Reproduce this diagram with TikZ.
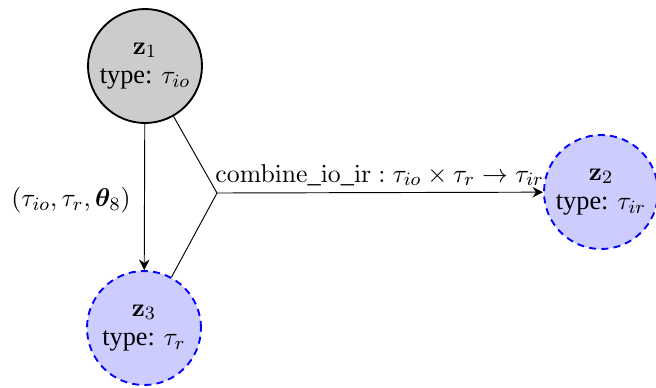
\documentclass[tikz,border=0pt]{standalone}
\usepackage[no-math]{fontspec}
\setmainfont{Liberation Serif}
\usepackage{amsmath,bm}
\usetikzlibrary{arrows.meta}
\begin{document}
\begin{tikzpicture}[x=0.4255pt,y=-0.4255pt,
  var/.style={circle,minimum size=48.5pt,inner sep=0pt,align=center,font=\fontsize{11.2}{12.6}\selectfont},
  observed/.style={var,draw=black,thick,fill=black!20},
  latent/.style={var,draw=blue,thick,dash pattern=on 3pt off 2.2pt,fill=blue!20},
  edge/.style={draw=black,-{Stealth[length=4.5pt,width=4.5pt]}},
  lbl/.style={font=\fontsize{11.2}{13}\selectfont,inner sep=0pt}]
  \useasboundingbox (0,0) rectangle (656,387);

  \node[observed] (z1) at (145,66) {$\mathbf{z}_1$\\type: $\tau_{io}$};
  \node[latent]   (z2) at (601,192) {$\mathbf{z}_2$\\type: $\tau_{ir}$};
  \node[latent]   (z3) at (144,328) {$\mathbf{z}_3$\\type: $\tau_{r}$};

  % parameter edge z1 -> z3
  \draw[edge] (z1) -- (z3);
  \node[lbl] (plabel) at (71,200) {$(\tau_{io},\tau_r,\boldsymbol{\theta}_8)$};

  % combining hyperedge z1, z3 -> z2
  \coordinate (j) at (217,193);
  \draw (z1) -- (j);
  \draw (z3) -- (j);
  \draw[edge] (j) -- (z2);
  \node[lbl,anchor=base west] (clabel) at (215,182)
    {$\mathrm{combine\_io\_ir}:\tau_{io}\times\tau_r\rightarrow\tau_{ir}$};
\end{tikzpicture}
\end{document}
